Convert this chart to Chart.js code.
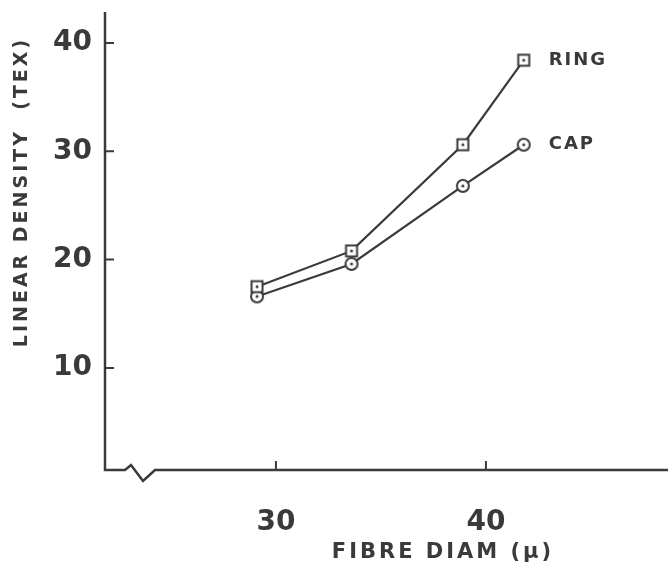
<!DOCTYPE html>
<html>
<head>
<meta charset="utf-8">
<script src="https://cdn.jsdelivr.net/npm/chart.js@4/dist/chart.umd.min.js"></script>
<style>
  html, body { margin: 0; padding: 0; background: #ffffff; }
  #wrap { width: 668px; height: 566px; position: relative; }
</style>
</head>
<body>
<div id="wrap"><canvas id="c" width="668" height="566"></canvas></div>
<script>
// ---- data ----
const fibreDiam = [29.1, 33.6, 38.9, 41.8];      // fibre diameter (µ)
const ringTex   = [17.5, 20.8, 30.6, 38.4];      // RING linear density (tex)
const capTex    = [16.6, 19.6, 26.8, 30.6];      // CAP linear density (tex)
const seriesNames = ['RING', 'CAP'];
const xTickValues = [30, 40];
const yTickValues = [10, 20, 30, 40];
const xTitle = 'FIBRE DIAM (\u00b5)';
const yTitle = 'LINEAR DENSITY  (TEX)';

const INK = '#3a3a3a';
const FONT = '"DejaVu Sans", sans-serif';

function makeMarker(kind) {
  const s = 16;
  const cv = document.createElement('canvas');
  cv.width = s; cv.height = s;
  const g = cv.getContext('2d');
  g.strokeStyle = INK; g.fillStyle = '#ffffff'; g.lineWidth = 2;
  if (kind === 'square') {
    g.fillRect(2.5, 2.5, 11, 11);
    g.strokeRect(2.5, 2.5, 11, 11);
  } else {
    g.beginPath(); g.arc(8, 8, 6, 0, Math.PI * 2); g.fill(); g.stroke();
  }
  g.fillStyle = INK;
  g.beginPath(); g.arc(8, 8, 1.5, 0, Math.PI * 2); g.fill();
  return cv;
}

const toPoints = (ys) => fibreDiam.map((x, i) => ({ x: x, y: ys[i] }));

const decor = {
  id: 'decor',
  afterDraw(chart) {
    const ctx = chart.ctx;
    const a = chart.chartArea;
    const xs = chart.scales.x, ys = chart.scales.y;
    ctx.save();
    ctx.strokeStyle = INK;
    ctx.lineWidth = 2.5;
    ctx.lineJoin = 'miter';
    // y axis
    ctx.beginPath();
    ctx.moveTo(a.left, a.top);
    ctx.lineTo(a.left, a.bottom);
    // x axis with break
    ctx.lineTo(a.left + 20, a.bottom);
    ctx.lineTo(a.left + 26, a.bottom - 5);
    ctx.lineTo(a.left + 38, a.bottom + 11);
    ctx.lineTo(a.left + 50, a.bottom);
    ctx.lineTo(a.right, a.bottom);
    ctx.stroke();
    // ticks (inside)
    ctx.lineWidth = 2;
    ctx.beginPath();
    yTickValues.forEach(v => {
      const p = ys.getPixelForValue(v);
      ctx.moveTo(a.left, p); ctx.lineTo(a.left + 9, p);
    });
    xTickValues.forEach(v => {
      const p = xs.getPixelForValue(v);
      ctx.moveTo(p, a.bottom); ctx.lineTo(p, a.bottom - 9);
    });
    ctx.stroke();

    // axis titles
    ctx.fillStyle = INK;
    ctx.textAlign = 'center';
    ctx.textBaseline = 'middle';
    ctx.font = 'bold 21px ' + FONT;
    if ('letterSpacing' in ctx) ctx.letterSpacing = '3px';
    ctx.fillText(xTitle, 443, 553);
    ctx.save();
    ctx.translate(22, 192);
    ctx.rotate(-Math.PI / 2);
    ctx.font = 'bold 19px ' + FONT;
    if ('letterSpacing' in ctx) ctx.letterSpacing = '3px';
    ctx.fillText(yTitle, 0, 0);
    ctx.restore();

    // series labels at line ends
    ctx.font = 'bold 18px ' + FONT;
    ctx.textAlign = 'left';
    if ('letterSpacing' in ctx) ctx.letterSpacing = '2px';
    chart.data.datasets.forEach((ds, i) => {
      const meta = chart.getDatasetMeta(i);
      const last = meta.data[meta.data.length - 1];
      ctx.fillText(seriesNames[i], last.x + 25, last.y);
    });
    ctx.restore();
  }
};

new Chart(document.getElementById('c'), {
  type: 'line',
  data: {
    datasets: [
      { label: seriesNames[0], data: toPoints(ringTex), borderColor: INK, borderWidth: 2.2,
        pointStyle: makeMarker('square'), pointRadius: 8, tension: 0, fill: false },
      { label: seriesNames[1], data: toPoints(capTex), borderColor: INK, borderWidth: 2.2,
        pointStyle: makeMarker('circle'), pointRadius: 8, tension: 0, fill: false }
    ]
  },
  options: {
    responsive: false,
    animation: false,
    events: [],
    layout: { autoPadding: false, padding: { top: 12, right: 0, left: 0, bottom: 0 } },
    plugins: { legend: { display: false }, tooltip: { enabled: false }, title: { display: false } },
    scales: {
      x: {
        type: 'linear', min: 21.86, max: 48.67,
        grid: { display: false }, border: { display: false },
        afterBuildTicks: (s) => { s.ticks = xTickValues.map(v => ({ value: v })); },
        afterFit: (s) => { s.height = 96; s.paddingLeft = 0; s.paddingRight = 0; },
        ticks: { color: INK, font: { family: FONT, size: 28, weight: 'bold' }, padding: 28, maxRotation: 0 }
      },
      y: {
        type: 'linear', min: 0.58, max: 42.85,
        grid: { display: false }, border: { display: false },
        afterBuildTicks: (s) => { s.ticks = yTickValues.map(v => ({ value: v })); },
        afterFit: (s) => { s.width = 105; s.paddingTop = 0; s.paddingBottom = 0; },
        ticks: { color: INK, font: { family: FONT, size: 28, weight: 'bold' }, padding: 5 }
      }
    }
  },
  plugins: [decor]
});
</script>
</body>
</html>
